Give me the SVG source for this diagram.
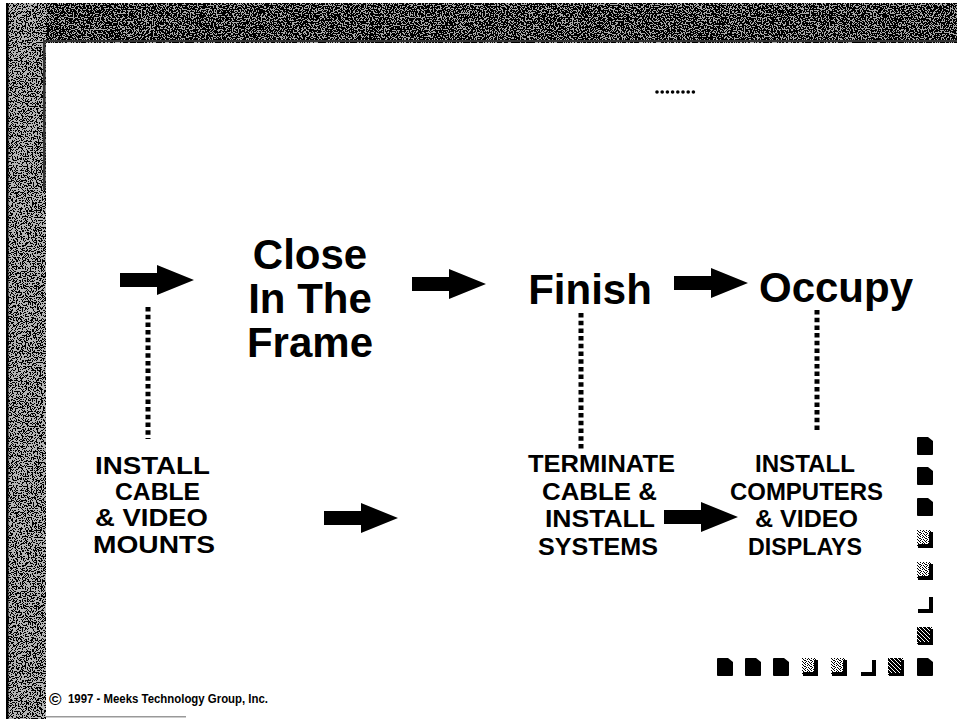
<svg xmlns="http://www.w3.org/2000/svg" xmlns:xlink="http://www.w3.org/1999/xlink" width="957" height="719" viewBox="0 0 957 719">
<style>
  .t { font-family: "Liberation Sans", Arial, Helvetica, sans-serif; font-weight: bold; fill: #000; }
  .big { font-size: 42px; text-anchor: middle; }
  .small { font-size: 23px; }
  .copy { font-size: 12px; }
  .dots { stroke: #000; stroke-width: 5; stroke-dasharray: 4.5 3.2; fill: none; }
  .arrow { fill: #000; }
</style>
<defs>
  <filter id="speck" x="0" y="0" width="1" height="1" filterUnits="objectBoundingBox">
    <feTurbulence type="fractalNoise" baseFrequency="0.75" numOctaves="3" seed="7"/>
    <feColorMatrix type="matrix" values="0 0 0 0 0  0 0 0 0 0  0 0 0 0 0  1 0 0 0 0.03"/>
    <feComponentTransfer><feFuncA type="discrete" tableValues="0 0 1 1"/></feComponentTransfer>
  </filter>
  <filter id="speckLight" x="0" y="0" width="1" height="1" filterUnits="objectBoundingBox">
    <feTurbulence type="fractalNoise" baseFrequency="0.8" numOctaves="3" seed="11"/>
    <feColorMatrix type="matrix" values="0 0 0 0 0  0 0 0 0 0  0 0 0 0 0  1 0 0 0 -0.03"/>
    <feComponentTransfer><feFuncA type="discrete" tableValues="0 0 1 1"/></feComponentTransfer>
  </filter>
  <pattern id="dither" width="6" height="6" patternUnits="userSpaceOnUse">
    <rect width="6" height="6" fill="#fff"/>
    <path d="M0,0h1v1h-1z M3,0h1v1h-1z M1,1h1v1h-1z M5,1h1v1h-1z M2,2h2v1h-2z M0,3h1v1h-1z M4,3h1v1h-1z M1,4h1v1h-1z M3,4h1v1h-1z M5,5h1v1h-1z M2,5h1v1h-1z" fill="#000"/>
  </pattern>
  <pattern id="ditherDark" width="4" height="4" patternUnits="userSpaceOnUse">
    <rect width="4" height="4" fill="#000"/>
    <path d="M1,0h1v1h-1z M3,2h1v1h-1z M0,3h1v1h-1z M2,1h1v1h-1z" fill="#fff"/>
  </pattern>
  <path id="arr" class="arrow" d="M-74,-7 H-37 V-15 L0,0 L-37,15 V7 H-74 Z"/>
  <path id="sqBlack" d="M0,1 Q0,0 1,0 H11 L16,4 V17 Q16,18 15,18 H1 Q0,18 0,17 Z" fill="#000"/>
  <g id="sqGray">
    <rect x="0" y="0" width="14" height="16" fill="url(#dither)"/>
    <path d="M12,2 H16 V18 H1 V14 H12 Z" fill="#000"/>
  </g>
  <g id="sqDark">
    <rect x="0" y="0" width="15" height="17" fill="url(#ditherDark)"/>
    <path d="M13,2 H16 V18 H1 V15 H13 Z" fill="#000"/>
  </g>
  <path id="sqL" d="M12,2 H16 V18 H1 V14 H12 Z" fill="#000"/>
</defs>

<!-- background and frame -->
<rect x="0" y="0" width="957" height="719" fill="#fff"/>
<g id="frame">
  <rect x="8" y="3" width="949" height="40" fill="#a8a8a8"/>
  <rect x="8" y="3" width="949" height="40" filter="url(#speck)"/>
  <rect x="8" y="3" width="38" height="716" fill="#b4b4b4"/>
  <rect x="8" y="3" width="38" height="716" filter="url(#speckLight)"/>
  <rect x="6" y="3" width="2.5" height="716" fill="#000"/>
  <rect x="43" y="40" width="914" height="2" fill="#333"/>
  <rect x="43" y="40" width="2.5" height="150" fill="#333"/>
  <rect x="46" y="716" width="140" height="1.5" fill="#999"/>
</g>

<!-- small dotted mark at top -->
<g id="topmark" fill="#000">
  <circle cx="657" cy="92" r="1.8"/>
  <circle cx="662.2" cy="92" r="1.8"/>
  <circle cx="667.4" cy="92" r="1.8"/>
  <circle cx="672.6" cy="92" r="1.8"/>
  <circle cx="677.8" cy="92" r="1.8"/>
  <circle cx="683" cy="92" r="1.8"/>
  <circle cx="688.2" cy="92" r="1.8"/>
  <circle cx="693.4" cy="92" r="1.8"/>
</g>

<!-- stage nodes -->
<g id="node-close">
  <text class="t big" x="310" y="269">Close</text>
  <text class="t big" x="310" y="313">In The</text>
  <text class="t big" x="310" y="357">Frame</text>
</g>
<g id="node-finish">
  <text class="t big" x="590" y="304">Finish</text>
</g>
<g id="node-occupy">
  <text class="t big" x="836" y="302">Occupy</text>
</g>

<!-- task nodes -->
<g id="node-install-cable">
  <text class="t small" x="95" y="474" textLength="115" lengthAdjust="spacingAndGlyphs">INSTALL</text>
  <text class="t small" x="115" y="500" textLength="85" lengthAdjust="spacingAndGlyphs">CABLE</text>
  <text class="t small" x="95" y="526" textLength="113" lengthAdjust="spacingAndGlyphs">&amp; VIDEO</text>
  <text class="t small" x="93" y="553" textLength="122" lengthAdjust="spacingAndGlyphs">MOUNTS</text>
</g>
<g id="node-terminate">
  <text class="t small" x="528" y="472" textLength="147" lengthAdjust="spacingAndGlyphs">TERMINATE</text>
  <text class="t small" x="542" y="500" textLength="115" lengthAdjust="spacingAndGlyphs">CABLE &amp;</text>
  <text class="t small" x="545" y="527" textLength="110" lengthAdjust="spacingAndGlyphs">INSTALL</text>
  <text class="t small" x="538" y="555" textLength="120" lengthAdjust="spacingAndGlyphs">SYSTEMS</text>
</g>
<g id="node-install-computers">
  <text class="t small" x="755" y="472" textLength="100" lengthAdjust="spacingAndGlyphs">INSTALL</text>
  <text class="t small" x="730" y="500" textLength="153" lengthAdjust="spacingAndGlyphs">COMPUTERS</text>
  <text class="t small" x="755" y="527" textLength="103" lengthAdjust="spacingAndGlyphs">&amp; VIDEO</text>
  <text class="t small" x="748" y="555" textLength="114" lengthAdjust="spacingAndGlyphs">DISPLAYS</text>
</g>

<!-- connectors -->
<g id="connectors">
  <use xlink:href="#arr" href="#arr" x="194" y="280"/>
  <use xlink:href="#arr" href="#arr" x="486" y="284"/>
  <use xlink:href="#arr" href="#arr" x="748" y="283"/>
  <use xlink:href="#arr" href="#arr" x="398" y="518"/>
  <use xlink:href="#arr" href="#arr" x="738" y="517"/>
  <line class="dots" x1="148" y1="307" x2="148" y2="439"/>
  <line class="dots" x1="581" y1="313" x2="581" y2="450"/>
  <line class="dots" x1="817" y1="310" x2="817" y2="431"/>
</g>

<!-- decorative squares -->
<g id="squares">
  <use xlink:href="#sqBlack" href="#sqBlack" x="917" y="437"/>
  <use xlink:href="#sqBlack" href="#sqBlack" x="917" y="467"/>
  <use xlink:href="#sqBlack" href="#sqBlack" x="917" y="498"/>
  <use xlink:href="#sqGray" href="#sqGray" x="917" y="530"/>
  <use xlink:href="#sqGray" href="#sqGray" x="917" y="562"/>
  <use xlink:href="#sqL" href="#sqL" x="917" y="595"/>
  <use xlink:href="#sqDark" href="#sqDark" x="917" y="627"/>
  <use xlink:href="#sqBlack" href="#sqBlack" x="917" y="658"/>
  <use xlink:href="#sqBlack" href="#sqBlack" x="717" y="658"/>
  <use xlink:href="#sqBlack" href="#sqBlack" x="745" y="658"/>
  <use xlink:href="#sqBlack" href="#sqBlack" x="773" y="658"/>
  <use xlink:href="#sqGray" href="#sqGray" x="802" y="658"/>
  <use xlink:href="#sqGray" href="#sqGray" x="831" y="658"/>
  <use xlink:href="#sqL" href="#sqL" x="860" y="658"/>
  <use xlink:href="#sqDark" href="#sqDark" x="888" y="658"/>
</g>

<!-- copyright -->
<g id="copyright">
  <text class="t" x="49" y="705" font-size="17" font-weight="normal">©</text>
  <text class="t copy" x="68" y="703" textLength="200" lengthAdjust="spacingAndGlyphs">1997 - Meeks Technology Group, Inc.</text>
</g>
</svg>
